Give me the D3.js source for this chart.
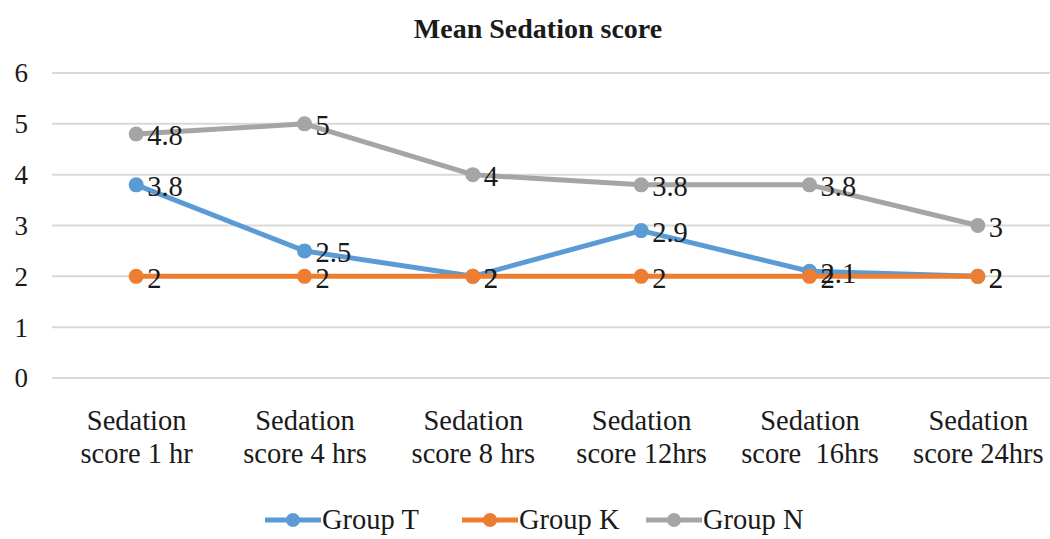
<!DOCTYPE html>
<html>
<head>
<meta charset="utf-8">
<script src="https://cdn.jsdelivr.net/npm/d3@7"></script>
<style>
  html, body { margin: 0; padding: 0; background: #fff; }
  svg { display: block; }
  svg text { fill: #1a1a1a; }
</style>
</head>
<body>
<svg id="chart" width="1050" height="539"></svg>
<script>
// Time points on the x axis (two-line labels)
const categories = [
  ["Sedation", "score 1 hr"],
  ["Sedation", "score 4 hrs"],
  ["Sedation", "score 8 hrs"],
  ["Sedation", "score 12hrs"],
  ["Sedation", "score  16hrs"],
  ["Sedation", "score 24hrs"]
];
const seriesNames = ["Group T", "Group K", "Group N"];
const groupT = [3.8, 2.5, 2, 2.9, 2.1, 2];
const groupK = [2, 2, 2, 2, 2, 2];
const groupN = [4.8, 5, 4, 3.8, 3.8, 3];
const yTicks = [0, 1, 2, 3, 4, 5, 6];
const colors = ["#5B9BD5", "#ED7D31", "#A5A5A5"];

const seriesValues = [groupT, groupK, groupN];
const FONT = "Liberation Serif";
const svg = d3.select("#chart");

const x = d3.scalePoint()
  .domain(d3.range(categories.length))
  .range([52, 1062])
  .padding(0.5);
const y = d3.scaleLinear().domain([0, 6]).range([378, 73]);

// Helper: serif text element
function label(sel, size) {
  return sel.append("text")
    .attr("font-family", FONT)
    .attr("font-size", size);
}

// Title
label(svg, 28)
  .attr("x", 538).attr("y", 38)
  .attr("text-anchor", "middle")
  .attr("font-weight", "bold")
  .text("Mean Sedation score");

// Horizontal gridlines
svg.append("g").selectAll("line").data(yTicks).join("line")
  .attr("x1", 52).attr("x2", 1062)
  .attr("y1", d => y(d)).attr("y2", d => y(d))
  .attr("stroke", "#d9d9d9").attr("stroke-width", 2);

// Y axis labels
const yAxis = d3.axisLeft(y).tickValues(yTicks).tickSize(0).tickPadding(0).tickFormat(d3.format("d"));
svg.append("g").attr("transform", "translate(28,0)").call(yAxis)
  .attr("font-family", FONT).attr("font-size", 27)
  .call(g => g.select(".domain").remove())
  .call(g => g.selectAll("text").attr("dy", "0.33em")
    .attr("font-family", FONT).attr("font-size", 27));

// X axis labels (two lines per category)
const xAxis = d3.axisBottom(x).tickSize(0).tickFormat(() => "");
const xg = svg.append("g").attr("transform", "translate(0,378)").call(xAxis)
  .attr("font-family", FONT);
xg.select(".domain").remove();
xg.selectAll(".tick").each(function(i) {
  const t = label(d3.select(this), 28.5).attr("text-anchor", "middle");
  t.append("tspan").attr("x", 0).attr("y", 52).text(categories[i][0]);
  t.append("tspan").attr("x", 0).attr("y", 85).style("white-space", "pre").text(categories[i][1]);
});

// Lines and markers
const line = d3.line().x((d, i) => x(i)).y(d => y(d));
seriesValues.forEach((vals, s) => {
  const g = svg.append("g");
  g.append("path").datum(vals)
    .attr("d", line).attr("fill", "none")
    .attr("stroke", colors[s]).attr("stroke-width", 5)
    .attr("stroke-linejoin", "round");
  g.selectAll("circle").data(vals).join("circle")
    .attr("cx", (d, i) => x(i)).attr("cy", d => y(d))
    .attr("r", 7.5).attr("fill", colors[s]);
});

// Value labels to the right of each marker
seriesValues.forEach((vals) => {
  const g = svg.append("g");
  vals.forEach((d, i) => {
    label(g, 28.5)
      .attr("x", x(i) + 11).attr("y", y(d))
      .attr("dy", "0.4em")
      .text(d);
  });
});

// Legend
const legendX = [265, 462, 646];
const lg = svg.append("g").attr("transform", "translate(0,520)");
seriesNames.forEach((name, s) => {
  const item = lg.append("g").attr("transform", `translate(${legendX[s]},0)`);
  item.append("line").attr("x1", 0).attr("x2", 56).attr("y1", 0).attr("y2", 0)
    .attr("stroke", colors[s]).attr("stroke-width", 5);
  item.append("circle").attr("cx", 28).attr("cy", 0).attr("r", 7).attr("fill", colors[s]);
  label(item, 28.5).attr("x", 57).attr("y", 0).attr("dy", "0.33em").text(name);
});
</script>
</body>
</html>
